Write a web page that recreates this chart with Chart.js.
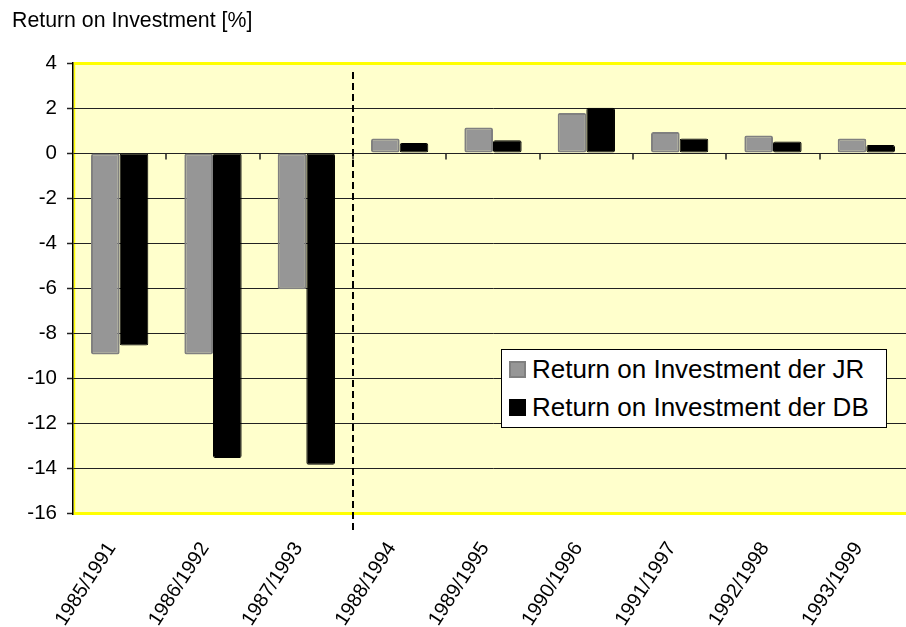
<!DOCTYPE html>
<html>
<head>
<meta charset="utf-8">
<title>Return on Investment</title>
<script src="https://cdn.jsdelivr.net/npm/chart.js@4"></script>
<style>
  html, body { margin: 0; padding: 0; background: #fff; overflow: hidden; }
  #wrap { position: relative; width: 906px; height: 627px; overflow: hidden; }
  #roi-chart { position: absolute; left: 0; top: 0; }
  #axis-title {
    position: absolute; left: 12px; top: 10px;
    font: 21.3px/21px "Liberation Sans", Arial, sans-serif; color: #000; white-space: nowrap;
  }
  #legend {
    position: absolute; left: 501px; top: 349px; width: 384px; height: 77px;
    border: 1px solid #000; background: #fff;
    font: 26px "Liberation Sans", Arial, sans-serif; color: #000;
  }
  #legend .row { height: 38px; line-height: 38px; display: flex; align-items: center; white-space: nowrap; }
  #legend .swatch { width: 17px; height: 17px; margin: 0 6px 0 7px; box-sizing: border-box; border: 2px solid; }
</style>
</head>
<body>
<div id="wrap">
  <canvas id="roi-chart" width="918" height="627"></canvas>
  <div id="axis-title">Return on Investment [%]</div>
  <div id="legend"></div>
</div>
<script>
const periods = ['1985/1991', '1986/1992', '1987/1993', '1988/1994', '1989/1995', '1990/1996', '1991/1997', '1992/1998', '1993/1999'];
const roiJR = [-8.95, -8.95, -6.05, 0.64, 1.13, 1.78, 0.93, 0.78, 0.65];
const roiDB = [-8.55, -13.55, -13.85, 0.44, 0.57, 2.01, 0.65, 0.51, 0.36];
const seriesNames = ['Return on Investment der JR', 'Return on Investment der DB'];
const yTicks = { min: -16, max: 4, step: 2 };
const dividerBefore = '1988/1994';

const colors = {
  jrFill: '#969696',
  jrBorder: '#808080',
  dbFill: '#000000',
  dbBorder: '#000000',
  plot: '#ffffcc',
  frame: '#ffff00',
  grid: '#222222',
};

const fontFamily = '"Liberation Sans", Arial, sans-serif';

// plot background, zero-line tick marks and the dashed divider
const plotDecor = {
  id: 'plotDecor',
  beforeDraw(chart) {
    const { ctx, chartArea: a } = chart;
    ctx.save();
    ctx.fillStyle = colors.plot;
    ctx.fillRect(a.left, a.top, a.right - a.left, a.bottom - a.top);
    ctx.strokeStyle = colors.frame;
    ctx.lineWidth = 1.5;
    ctx.beginPath();
    ctx.moveTo(a.left + 1.5, a.top);
    ctx.lineTo(a.left + 1.5, a.bottom);
    ctx.stroke();
    ctx.restore();
  },
  afterDatasetsDraw(chart) {
    const { ctx, chartArea: a } = chart;
    const x = chart.scales.x;
    const y = chart.scales.y;
    const zeroY = Math.round(y.getPixelForValue(0)) + 0.5;
    const step = x.getPixelForValue(1) - x.getPixelForValue(0);

    ctx.save();
    ctx.strokeStyle = colors.grid;
    ctx.lineWidth = 1.5;
    ctx.beginPath();
    for (let i = 1; i <= periods.length; i++) {
      const bx = Math.round(x.getPixelForValue(i) - step / 2);
      ctx.moveTo(bx, zeroY);
      ctx.lineTo(bx, zeroY + 6);
    }
    ctx.stroke();

    const idx = periods.indexOf(dividerBefore);
    const dx = Math.round(x.getPixelForValue(idx) - step / 2);
    ctx.strokeStyle = '#000';
    ctx.lineWidth = 2;
    ctx.setLineDash([7, 4]);
    ctx.beginPath();
    ctx.moveTo(dx, a.top + 9);
    ctx.lineTo(dx, a.bottom + 20);
    ctx.stroke();
    ctx.restore();
  },
};

function isFrameTick(value) {
  return value === yTicks.min || value === yTicks.max;
}

const datasets = [
  {
    label: seriesNames[0],
    data: roiJR,
    backgroundColor: colors.jrFill,
    borderColor: colors.jrBorder,
    borderWidth: 2,
    borderRadius: 2,
    borderSkipped: false,
  },
  {
    label: seriesNames[1],
    data: roiDB,
    backgroundColor: colors.dbFill,
    borderColor: colors.dbBorder,
    borderWidth: 1,
    borderRadius: 2,
    borderSkipped: false,
  },
];

new Chart(document.querySelector('#roi-chart'), {
  type: 'bar',
  data: { labels: periods, datasets },
  options: {
    responsive: false,
    animation: false,
    categoryPercentage: 0.614,
    barPercentage: 1,
    layout: { padding: { top: 63, right: 5, left: 0, bottom: 0 } },
    plugins: {
      legend: { display: false },
      tooltip: { enabled: false },
    },
    scales: {
      x: {
        afterFit: (scale) => { scale.height = 114; },
        grid: { display: false, drawTicks: false },
        border: { display: false },
        ticks: {
          color: '#000',
          font: { family: fontFamily, size: 20 },
          minRotation: 57,
          maxRotation: 57,
          autoSkip: false,
          padding: 25,
          labelOffset: -8,
        },
      },
      y: {
        min: yTicks.min,
        max: yTicks.max,
        afterFit: (scale) => { scale.width = 73; },
        grid: {
          color: (c) => (isFrameTick(c.tick.value) ? colors.frame : colors.grid),
          lineWidth: (c) => (isFrameTick(c.tick.value) ? 3 : 1),
          tickColor: colors.grid,
          tickWidth: 1.5,
          tickLength: 6,
        },
        border: { display: true, color: '#000', width: 1.5 },
        ticks: {
          stepSize: yTicks.step,
          color: '#000',
          font: { family: fontFamily, size: 20.5 },
          padding: 10,
        },
      },
    },
  },
  plugins: [plotDecor],
});

// legend drawn as html inside the plot
const legendEl = document.querySelector('#legend');
legendEl.innerHTML = datasets
  .map((ds) => `
    <div class="row">
      <span class="swatch" style="background:${ds.backgroundColor};border-color:${ds.borderColor}"></span>
      <span>${ds.label}</span>
    </div>
  `)
  .join('');
</script>
</body>
</html>
